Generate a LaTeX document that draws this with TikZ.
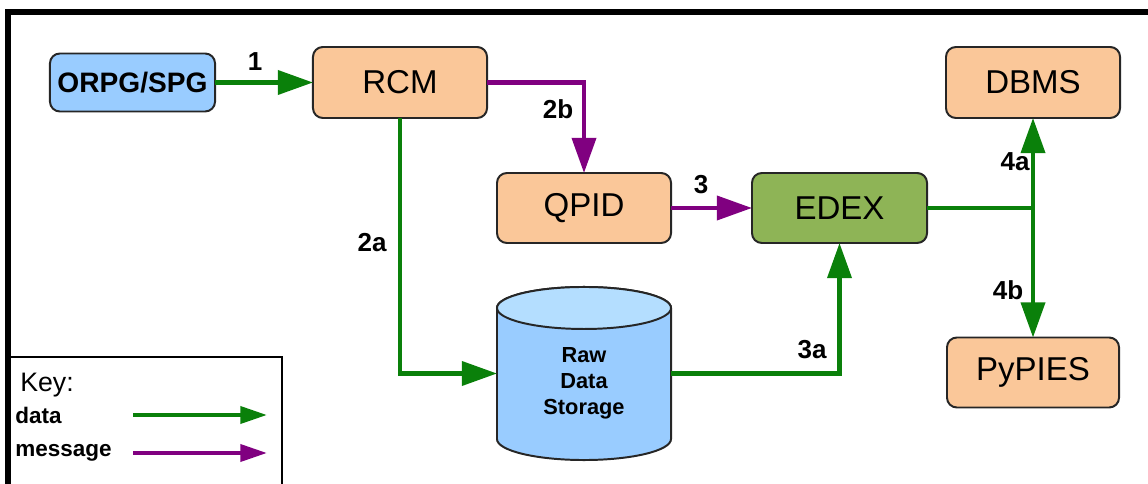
\documentclass[tikz,border=0pt]{standalone}
\usepackage{fontspec}
\setmainfont{Liberation Sans}
\usetikzlibrary{arrows.meta,calc}
\definecolor{peach}{RGB}{250,199,153}
\definecolor{skyb}{RGB}{153,204,255}
\definecolor{dbtop}{RGB}{180,222,255}
\definecolor{edexg}{RGB}{142,180,86}
\definecolor{datag}{RGB}{10,128,10}
\definecolor{msgp}{RGB}{128,0,128}
\tikzset{
  proc/.style={draw=black!85,line width=1.4pt,rounded corners=7pt,fill=peach,
        inner sep=0pt,outer sep=0pt,minimum width=4.35cm,minimum height=1.775cm,
        font=\fontsize{23.5}{28}\selectfont},
  lbl/.style={font=\bfseries\fontsize{18.5}{22}\selectfont,inner sep=0pt},
  datarrow/.style={draw=datag,line width=3pt,-{Triangle[length=25pt,width=17pt]}},
  msgarrow/.style={draw=msgp,line width=3pt,-{Triangle[length=25pt,width=17pt]}},
  keytext/.style={anchor=west,inner sep=0pt,font=\bfseries\fontsize{16}{19}\selectfont}
}
\begin{document}
\begin{tikzpicture}[x=0.025cm,y=0.025cm]
  \useasboundingbox (0,0) rectangle (1148,-484);
  % frame and key box
  \draw[line width=3.8pt] (8,-12) rectangle (1170,-520);
  \draw[line width=1.8pt] (8,-357) rectangle (282,-520);

  % boxes
  \node[proc,fill=skyb,minimum width=4.125cm,minimum height=1.45cm,
        font=\bfseries\fontsize{20}{24}\selectfont] (orpg) at (132.5,-82.5) {ORPG/SPG};
  \node[proc] (rcm) at (400,-82.5) {RCM};
  \node[proc] (dbms) at (1033,-82.5) {DBMS};
  \node[proc,minimum height=1.75cm] (qpid) at (584,-208) {QPID};
  \node[proc,fill=edexg,minimum width=4.375cm,minimum height=1.75cm] (edex) at (839.5,-208) {EDEX};
  \node[proc,minimum width=4.3cm,minimum height=1.75cm] (pypies) at (1033,-372.5) {PyPIES};

  % storage cylinder
  \node[inner sep=0pt,outer sep=0pt,minimum width=4.35cm,minimum height=4.325cm] (raw) at (584,-373.5) {};
  \path[draw=black!85,line width=1.4pt,fill=skyb]
    ([yshift=-0.525cm]raw.north west) -- ([yshift=0.525cm]raw.south west)
    arc[start angle=180,end angle=360,x radius=2.175cm,y radius=0.525cm]
    -- ([yshift=-0.525cm]raw.north east)
    arc[start angle=0,end angle=180,x radius=2.175cm,y radius=0.525cm] -- cycle;
  \draw[black!85,line width=1.4pt,fill=dbtop] ([yshift=-0.525cm]raw.north)
    ellipse[x radius=2.175cm,y radius=0.525cm];
  \node[align=center,inner sep=0pt,font=\bfseries\fontsize{15.5}{18.5}\selectfont]
    (rawtxt) at ([yshift=-0.25cm]raw.center) {Raw\\Data\\Storage};

  % connectors
  \coordinate (split) at (dbms.south |- edex.east);
  \draw[datarrow] (orpg) -- (rcm);
  \draw[datarrow] (rcm.south) |- (raw.west);
  \draw[msgarrow] (rcm.east) -| (qpid.north);
  \draw[msgarrow] (qpid) -- (edex);
  \draw[datarrow] (raw.east) -| (edex.south);
  \draw[datag,line width=3pt] (edex.east) -- (split);
  \draw[datarrow] (split) -- (dbms.south);
  \draw[datarrow] (split) -- (pypies.north);

  % step labels
  \node[lbl] (l1) at (255,-62) {1};
  \node[lbl] (l2a) at (372,-243) {2a};
  \node[lbl] (l2b) at (558,-109) {2b};
  \node[lbl] (l3) at (701,-185) {3};
  \node[lbl] (l3a) at (812,-350) {3a};
  \node[lbl] (l4a) at (1015,-162) {4a};
  \node[lbl] (l4b) at (1008,-290) {4b};

  % key
  \node[keytext,font=\fontsize{19}{22}\selectfont] (keyhd) at (20,-385) {Key:};
  \node[keytext] (keydata) at (15,-415) {data};
  \node[keytext] (keymsg) at (15,-453) {message};
  \coordinate (kd1) at (133,-415);
  \coordinate (kd2) at (267,-415);
  \coordinate (km1) at (133,-453);
  \coordinate (km2) at (267,-453);
  \draw[datag,line width=3pt,-{Triangle[length=19pt,width=12pt]}] (kd1) -- (kd2);
  \draw[msgp,line width=3pt,-{Triangle[length=19pt,width=12pt]}] (km1) -- (km2);
\end{tikzpicture}
\end{document}
